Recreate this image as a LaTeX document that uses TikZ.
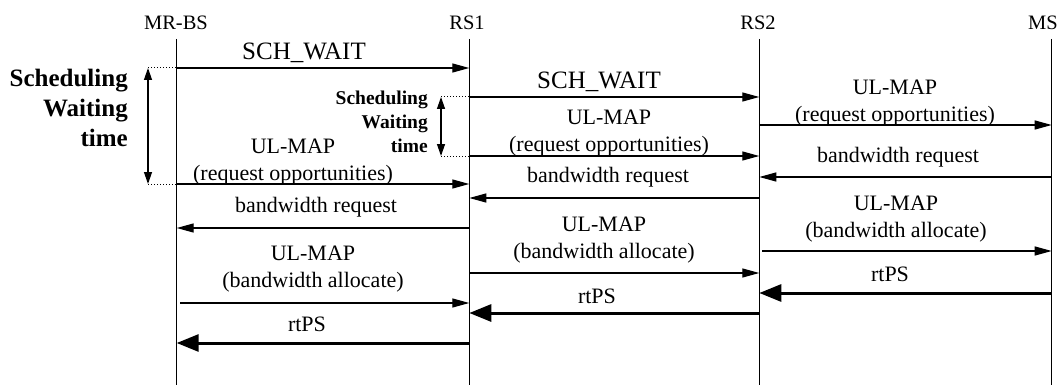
\documentclass[tikz,border=0pt]{standalone}
\usepackage{fontspec}
\setmainfont{Liberation Serif}
\usetikzlibrary{arrows.meta}
\begin{document}
\begin{tikzpicture}[x=1pt,y=-1pt,
  life/.style={line width=1.4pt},
  msg/.style={line width=1.3pt,-{Triangle[length=17pt,width=9pt]}},
  bigmsg/.style={line width=3pt,-{Triangle[length=22pt,width=17pt]}},
  wait/.style={line width=1.3pt,{Triangle[length=12pt,width=8pt]}-{Triangle[length=12pt,width=8pt]}},
  dots/.style={line width=1pt,dotted},
  head/.style={font=\fontsize{20.5}{24}\selectfont,inner sep=0pt,anchor=base},
  lbl/.style={font=\fontsize{22}{27}\selectfont,inner sep=0pt,align=center,anchor=south},
  sch/.style={font=\fontsize{25}{30}\selectfont,inner sep=0pt,anchor=south},
  bigwait/.style={font=\bfseries\fontsize{25}{30}\selectfont,inner sep=0pt,align=right,anchor=north east},
  smallwait/.style={font=\bfseries\fontsize{19.5}{24}\selectfont,inner sep=0pt,align=right,anchor=north east}]
\useasboundingbox (0,0) rectangle (1062,385);
% lifelines
\foreach \n/\x in {bs/176.7,rsa/469.3,rsb/759.3,ms/1051.7}{
  \coordinate (\n top) at (\x,39);
  \coordinate (\n bot) at (\x,385);
  \draw[life] (\n top) -- (\n bot);
}
\node[head] (hbs) at (176,30) {MR-BS};
\node[head] (hrsa) at (467,30) {RS1};
\node[head] (hrsb) at (758,30) {RS2};
\node[head] (hms) at (1043,30) {MS};
% message end points
\coordinate (m1s) at (176.7,68);  \coordinate (m1e) at (469.3,68);
\coordinate (m2s) at (469.3,97);  \coordinate (m2e) at (759.3,97);
\coordinate (m3s) at (469.3,156); \coordinate (m3e) at (759.3,156);
\coordinate (m4s) at (176.7,184); \coordinate (m4e) at (469.3,184);
\coordinate (m5s) at (759.3,125); \coordinate (m5e) at (1051.7,125);
\coordinate (m6s) at (1051.7,177);\coordinate (m6e) at (759.3,177);
\coordinate (m7s) at (759.3,198); \coordinate (m7e) at (469.3,198);
\coordinate (m8s) at (469.3,228); \coordinate (m8e) at (176.7,228);
\coordinate (m9s) at (762,251);   \coordinate (m9e) at (1051.7,251);
\coordinate (m10s) at (469.3,273);\coordinate (m10e) at (759.3,273);
\coordinate (m11s) at (180,303);  \coordinate (m11e) at (469.3,303);
\coordinate (m12s) at (1051.7,293);\coordinate (m12e) at (759.3,293);
\coordinate (m13s) at (759.3,313);\coordinate (m13e) at (469.3,313);
\coordinate (m14s) at (469.3,343);\coordinate (m14e) at (176.7,343);
\foreach \i in {1,...,11}{\draw[msg] (m\i s) -- (m\i e);}
\foreach \i in {12,13,14}{\draw[bigmsg] (m\i s) -- (m\i e);}
% labels
\node[sch] (l1) at (304,63) {SCH\_WAIT};
\node[sch] (l2) at (599,92) {SCH\_WAIT};
\node[lbl] (l3) at (609,156) {UL-MAP\\(request opportunities)};
\node[lbl] (l4) at (293,185) {UL-MAP\\(request opportunities)};
\node[lbl] (l5) at (895,126) {UL-MAP\\(request opportunities)};
\node[lbl] (l6) at (898,167) {bandwidth request};
\node[lbl] (l7) at (608,187) {bandwidth request};
\node[lbl] (l8) at (316,217) {bandwidth request};
\node[lbl] (l9) at (896,242) {UL-MAP\\(bandwidth allocate)};
\node[lbl] (l10) at (604,263) {UL-MAP\\(bandwidth allocate)};
\node[lbl] (l11) at (313,292) {UL-MAP\\(bandwidth allocate)};
\node[lbl] (l12) at (890,282) {rtPS};
\node[lbl] (l13) at (597,304) {rtPS};
\node[lbl] (l14) at (307,332) {rtPS};
% scheduling waiting time (big)
\coordinate (w1a) at (148,68); \coordinate (w1b) at (148,184);
\draw[dots] (w1a) -- (m1s);
\draw[dots] (w1b) -- (m4s);
\draw[wait] (w1a) -- (w1b);
\node[bigwait] (bw) at (128,69) {Scheduling\\Waiting\\time};
% scheduling waiting time (small)
\coordinate (w2a) at (441,97); \coordinate (w2b) at (441,156);
\draw[dots] (w2a) -- (m2s);
\draw[dots] (w2b) -- (m3s);
\draw[wait] (w2a) -- (w2b);
\node[smallwait] (sw) at (428,91) {Scheduling\\Waiting\\time};
\end{tikzpicture}
\end{document}
